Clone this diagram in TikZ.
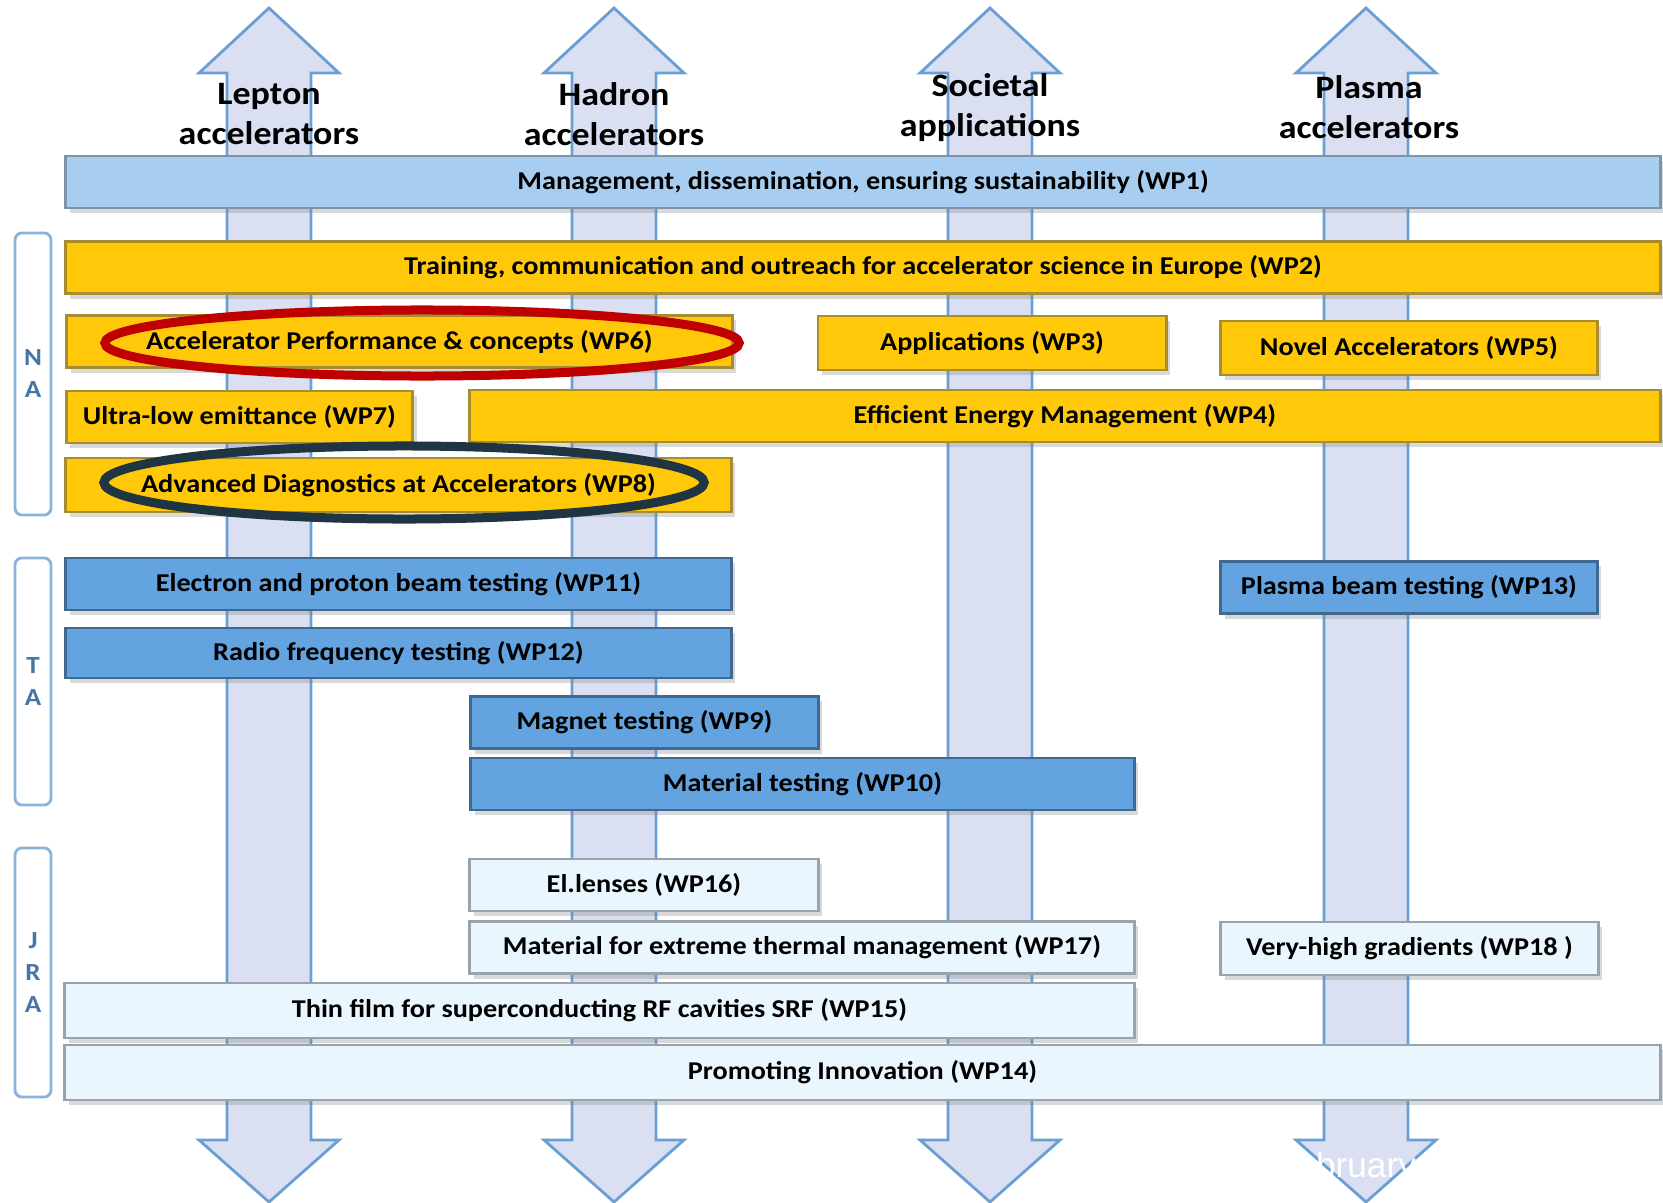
\documentclass[tikz,border=0pt]{standalone}
\usepackage{fontspec}
\setmainfont{Carlito}[FakeStretch=1.1]
\newfontfamily\stampfont{Liberation Sans}
\usetikzlibrary{shadows}
\definecolor{lanefill}{HTML}{DAE0F1}
\definecolor{laneline}{HTML}{6A9FD6}
\definecolor{mgmtfill}{HTML}{A7CDF0}
\definecolor{mgmtline}{HTML}{7F93A8}
\definecolor{nafill}{HTML}{FFC90A}
\definecolor{naline}{HTML}{A88C30}
\definecolor{tafill}{HTML}{63A3DF}
\definecolor{taline}{HTML}{3E6A92}
\definecolor{jrafill}{HTML}{EAF6FD}
\definecolor{jraline}{HTML}{9AA3AC}
\definecolor{grpline}{HTML}{8AB3DC}
\definecolor{grptext}{HTML}{4676A6}
\definecolor{redring}{HTML}{C00000}
\definecolor{darkring}{HTML}{1F3542}

\begin{document}
\begin{tikzpicture}[x=0.01cm,y=-0.01cm,
  every node/.style={font=\bfseries\fontsize{7.3}{8.8}\selectfont},
  lane arrow/.style={draw=laneline,line width=0.8pt,fill=lanefill},
  head node/.style={font=\bfseries\fontsize{9.3}{11.4}\selectfont,align=center},
  wp node/.style={minimum height=0.52cm,inner sep=0pt,line width=0.8pt,
    drop shadow={opacity=0.3,shadow xshift=0.04cm,shadow yshift=-0.05cm}},
  mgmt node/.style={wp node,fill=mgmtfill,draw=mgmtline},
  na node/.style={wp node,fill=nafill,draw=naline},
  ta node/.style={wp node,fill=tafill,draw=taline},
  jra node/.style={wp node,fill=jrafill,draw=jraline},
  group node/.style={draw=grpline,line width=0.8pt,rounded corners=2pt,fill=white,
    minimum width=0.36cm,inner sep=0pt,align=center,text=grptext,
    font=\bfseries\fontsize{7}{9.1}\selectfont},
  ring/.style={line width=0.09cm}]

  \useasboundingbox (0,0) rectangle (1663,1203);

  \draw[lane arrow] (227,73) -- (199,73) -- (269,8) -- (339,73) -- (311,73) -- (311,1140) -- (339,1140) -- (269,1202) -- (199,1140) -- (227,1140) -- cycle;
  \draw[lane arrow] (572,73) -- (544,73) -- (614,8) -- (684,73) -- (656,73) -- (656,1140) -- (684,1140) -- (614,1202) -- (544,1140) -- (572,1140) -- cycle;
  \draw[lane arrow] (948,73) -- (920,73) -- (990,8) -- (1060,73) -- (1032,73) -- (1032,1140) -- (1060,1140) -- (990,1202) -- (920,1140) -- (948,1140) -- cycle;
  \draw[lane arrow] (1324,73) -- (1296,73) -- (1366,8) -- (1436,73) -- (1408,73) -- (1408,1140) -- (1436,1140) -- (1366,1202) -- (1296,1140) -- (1324,1140) -- cycle;

  \node[head node] (lepton) at (269,114) {Lepton\\accelerators};
  \node[head node] (hadron) at (614,114) {Hadron\\accelerators};
  \node[head node] (societal) at (990,107.5) {Societal\\applications};
  \node[head node] (plasma) at (1369,107.5) {Plasma\\accelerators};

  \node[mgmt node, minimum width=15.94cm] (wp1) at (863,182) {Management, dissemination, ensuring sustainability (WP1)};

  \node[group node, minimum height=2.82cm] (na) at (33,374) {N\\A};
  \node[na node, minimum width=15.94cm] (wp2) at (863,267.5) {Training, communication and outreach for accelerator science in Europe (WP2)};
  \node[na node, minimum width=6.65cm] (wp6) at (399.5,341.5) {Accelerator Performance \& concepts (WP6)};
  \node[na node, minimum width=3.48cm, minimum height=0.54cm] (wp3) at (992,343) {Applications (WP3)};
  \node[na node, minimum width=3.76cm, minimum height=0.54cm] (wp5) at (1409,348) {Novel Accelerators (WP5)};
  \node[na node, minimum width=3.46cm] (wp7) at (239.5,417) {Ultra-low emittance (WP7)};
  \node[na node, minimum width=11.9cm] (wp4) at (1065,416) {Efficient Energy Management (WP4)};
  \node[na node, minimum width=6.65cm, minimum height=0.54cm] (wp8) at (398.5,485) {Advanced Diagnostics at Accelerators (WP8)};

  \node[group node, minimum height=2.47cm] (ta) at (33,681.5) {T\\A};
  \node[ta node, minimum width=6.65cm] (wp11) at (398.5,584) {Electron and proton beam testing (WP11)};
  \node[ta node, minimum width=3.76cm] (wp13) at (1409,587.5) {Plasma beam testing (WP13)};
  \node[ta node, minimum width=6.65cm, minimum height=0.5cm] (wp12) at (398.5,653) {Radio frequency testing (WP12)};
  \node[ta node, minimum width=3.47cm] (wp9) at (644.5,722.5) {Magnet testing (WP9)};
  \node[ta node, minimum width=6.63cm] (wp10) at (802.5,784) {Material testing (WP10)};

  \node[group node, minimum height=2.49cm] (jra) at (33,972.5) {J\\R\\A};
  \node[jra node, minimum width=3.48cm] (wp16) at (644,885) {El.lenses (WP16)};
  \node[jra node, minimum width=6.64cm] (wp17) at (802,947.5) {Material for extreme thermal management (WP17)};
  \node[jra node, minimum width=3.77cm, minimum height=0.53cm] (wp18) at (1409.5,948.5) {Very-high gradients (WP18 )};
  \node[jra node, minimum width=10.69cm, minimum height=0.55cm] (wp15) at (599.5,1010.5) {Thin film for superconducting RF cavities SRF (WP15)};
  \node[jra node, minimum width=15.95cm, minimum height=0.55cm] (wp14) at (862.5,1072.5) {Promoting Innovation (WP14)};

  \draw[ring, draw=redring] (422,343) ellipse [x radius=3.17cm, y radius=0.33cm];
  \draw[ring, draw=darkring] (404,482.5) ellipse [x radius=3.0cm, y radius=0.365cm];

  \node[text=white, font=\stampfont\fontsize{10}{12}\selectfont] (stamp) at (1366,1168) {bruary};

\end{tikzpicture}
\end{document}
